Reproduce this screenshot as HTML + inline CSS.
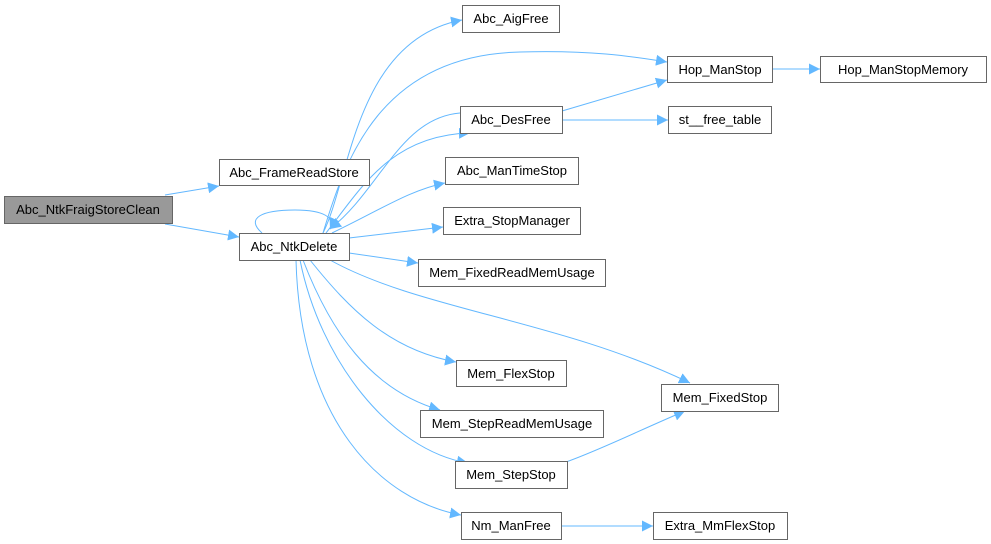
<!DOCTYPE html>
<html><head><meta charset="utf-8"><style>
html,body{margin:0;padding:0;background:#fff;}
svg{display:block;}
text{font-family:"Liberation Sans",Arial,sans-serif;font-size:13px;fill:#000;text-anchor:middle;}
.n{fill:#fff;stroke:#666;stroke-width:1;}
.e{fill:none;stroke:#63b8ff;stroke-width:1;}
</style></head><body>
<svg width="991" height="544" viewBox="0 0 991 544" xmlns="http://www.w3.org/2000/svg">
<defs><marker id="a" viewBox="0 0 10 10" refX="10" refY="5" markerWidth="11" markerHeight="11" markerUnits="userSpaceOnUse" orient="auto"><path d="M0,0 L10,5 L0,10 z" fill="#63b8ff"/></marker></defs>
<g class="e" marker-end="url(#a)">
<path d="M165,195 L219,186"/>
<path d="M165,224 L239,237"/>
<path d="M262,233 C245,218 262,210 295,210 C325,210 335,218 330,229"/>
<path d="M323,233 C350,180 355,40 462,20"/>
<path d="M323,233 C345,160 380,55 520,52 C590,50 630,56 667,62"/>
<path d="M326,233 C360,190 390,135 470,133"/>
<path d="M460,113 C400,118 380,190 330,229"/>
<path d="M332,233 C380,210 410,190 445,183"/>
<path d="M349,238 L443,227"/>
<path d="M349,253 L418,263"/>
<path d="M330,260 C420,310 560,320 690,383"/>
<path d="M310,260 C350,310 390,350 456,362"/>
<path d="M303,260 C330,330 370,390 440,410"/>
<path d="M300,260 C320,360 390,450 468,463"/>
<path d="M296,260 C300,420 380,500 461,515"/>
<path d="M562,111 L667,80"/>
<path d="M562,120 L668,120"/>
<path d="M772,69 L820,69"/>
<path d="M566,462 C600,450 640,430 685,411"/>
<path d="M561,526 L653,526"/>
</g>
<rect x="4.5" y="196.5" width="168" height="27" fill="#999" stroke="#666"/>
<text x="88" y="214">Abc_NtkFraigStoreClean</text>
<rect class="n" x="219.5" y="159.5" width="150" height="26"/><text x="294" y="177">Abc_FrameReadStore</text>
<rect class="n" x="239.5" y="233.5" width="110" height="27"/><text x="294" y="251">Abc_NtkDelete</text>
<rect class="n" x="462.5" y="5.5" width="97" height="27"/><text x="511" y="23">Abc_AigFree</text>
<rect class="n" x="667.5" y="56.5" width="105" height="26"/><text x="720" y="74">Hop_ManStop</text>
<rect class="n" x="820.5" y="56.5" width="166" height="26"/><text x="903" y="74">Hop_ManStopMemory</text>
<rect class="n" x="460.5" y="106.5" width="102" height="27"/><text x="511" y="124">Abc_DesFree</text>
<rect class="n" x="668.5" y="106.5" width="103" height="27"/><text x="720" y="124">st__free_table</text>
<rect class="n" x="445.5" y="157.5" width="133" height="27"/><text x="512" y="175">Abc_ManTimeStop</text>
<rect class="n" x="443.5" y="207.5" width="137" height="27"/><text x="512" y="225">Extra_StopManager</text>
<rect class="n" x="418.5" y="259.5" width="187" height="27"/><text x="512" y="277">Mem_FixedReadMemUsage</text>
<rect class="n" x="456.5" y="360.5" width="110" height="26"/><text x="511" y="378">Mem_FlexStop</text>
<rect class="n" x="661.5" y="384.5" width="117" height="27"/><text x="720" y="402">Mem_FixedStop</text>
<rect class="n" x="420.5" y="410.5" width="183" height="27"/><text x="512" y="428">Mem_StepReadMemUsage</text>
<rect class="n" x="455.5" y="461.5" width="112" height="27"/><text x="511" y="479">Mem_StepStop</text>
<rect class="n" x="461.5" y="512.5" width="100" height="27"/><text x="511" y="530">Nm_ManFree</text>
<rect class="n" x="653.5" y="512.5" width="134" height="27"/><text x="720" y="530">Extra_MmFlexStop</text>
</svg>
</body></html>
